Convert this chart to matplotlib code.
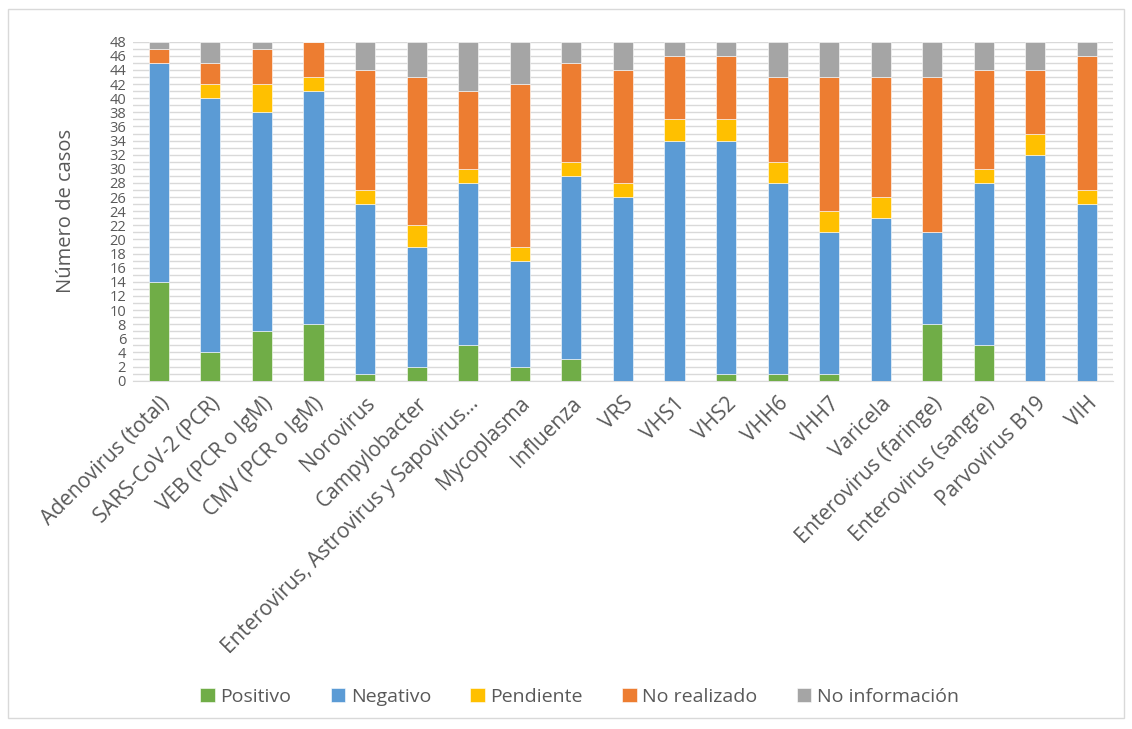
import matplotlib.pyplot as plt
import numpy as np

categorias = ['Adenovirus (total)', 'SARS-CoV-2 (PCR)', 'VEB (PCR o IgM)', 'CMV (PCR o IgM)',
			  'Norovirus', 'Campylobacter', 'Enterovirus, Astrovirus y Sapovirus...',
			  'Mycoplasma', 'Influenza', 'VRS', 'VHS1', 'VHS2', 'VHH6', 'VHH7', 'Varicela',
			  'Enterovirus (faringe)', 'Enterovirus (sangre)', 'Parvovirus B19', 'VIH']

positivo = [14, 4, 7, 8, 1, 2, 5, 2, 3, 0, 0, 1, 1, 1, 0, 8, 5, 0, 0]
negativo = [31, 36, 31, 33, 24, 17, 23, 15, 26, 26, 34, 33, 27, 20, 23, 13, 23, 32, 25]
pendiente = [0, 2, 4, 2, 2, 3, 2, 2, 2, 2, 3, 3, 3, 3, 3, 0, 2, 3, 2]
no_realizado = [2, 3, 5, 5, 17, 21, 11, 23, 14, 16, 9, 9, 12, 19, 17, 22, 14, 9, 19]
no_informacion = [1, 3, 1, 0, 4, 5, 7, 6, 3, 4, 2, 2, 5, 5, 5, 5, 4, 4, 2]

series = [('Positivo', positivo, '#70AD47'),
		  ('Negativo', negativo, '#5B9BD5'),
		  ('Pendiente', pendiente, '#FFC000'),
		  ('No realizado', no_realizado, '#ED7D31'),
		  ('No información', no_informacion, '#A5A5A5')]

plt.rcParams['font.family'] = ['Open Sans', 'DejaVu Sans']
texto = '#595959'

fig = plt.figure(figsize=(11.32, 7.29), dpi=100)
ax = fig.add_axes([0.1175, 0.4778, 0.8655, 0.465])

x = np.arange(len(categorias))
base = np.zeros(len(categorias))
for nombre, valores, color in series:
	v = np.array(valores)
	ax.bar(x, v, width=0.39, bottom=base, color=color, label=nombre,
		   edgecolor='white', linewidth=0.4, zorder=3)
	base += v

ax.set_xlim(-0.5, len(categorias) - 0.5)
ax.set_ylim(0, 48)
ax.set_yticks(np.arange(0, 49, 2))
ax.set_yticks(np.arange(0, 49, 1), minor=True)
ax.tick_params(axis='y', which='both', length=0, labelsize=10.5, colors=texto, pad=5)
ax.grid(axis='y', which='both', color='#d9d9d9', lw=1, zorder=0)
ax.set_xticks(x)
ax.set_xticklabels(categorias, rotation=45, ha='right', rotation_mode='anchor',
				   fontsize=15, color=texto)
ax.tick_params(axis='x', length=0, pad=9)
for s in ['top', 'right', 'left']:
	ax.spines[s].set_visible(False)
ax.spines['bottom'].set_color('#d9d9d9')
ax.set_ylabel('Número de casos', fontsize=14.5, color=texto, labelpad=24)

fig.legend(loc='center', bbox_to_anchor=(0.512, 0.044), ncol=5, frameon=False,
		   fontsize=14, handlelength=0.75, handleheight=0.75, handletextpad=0.3,
		   columnspacing=2.0, labelcolor=texto)

# borde del área del gráfico
fig.patches.append(plt.Rectangle((0.007, 0.015), 0.986, 0.972, transform=fig.transFigure,
								 fill=False, edgecolor='#d9d9d9', lw=1))

fig.savefig('out.png', dpi=100)
